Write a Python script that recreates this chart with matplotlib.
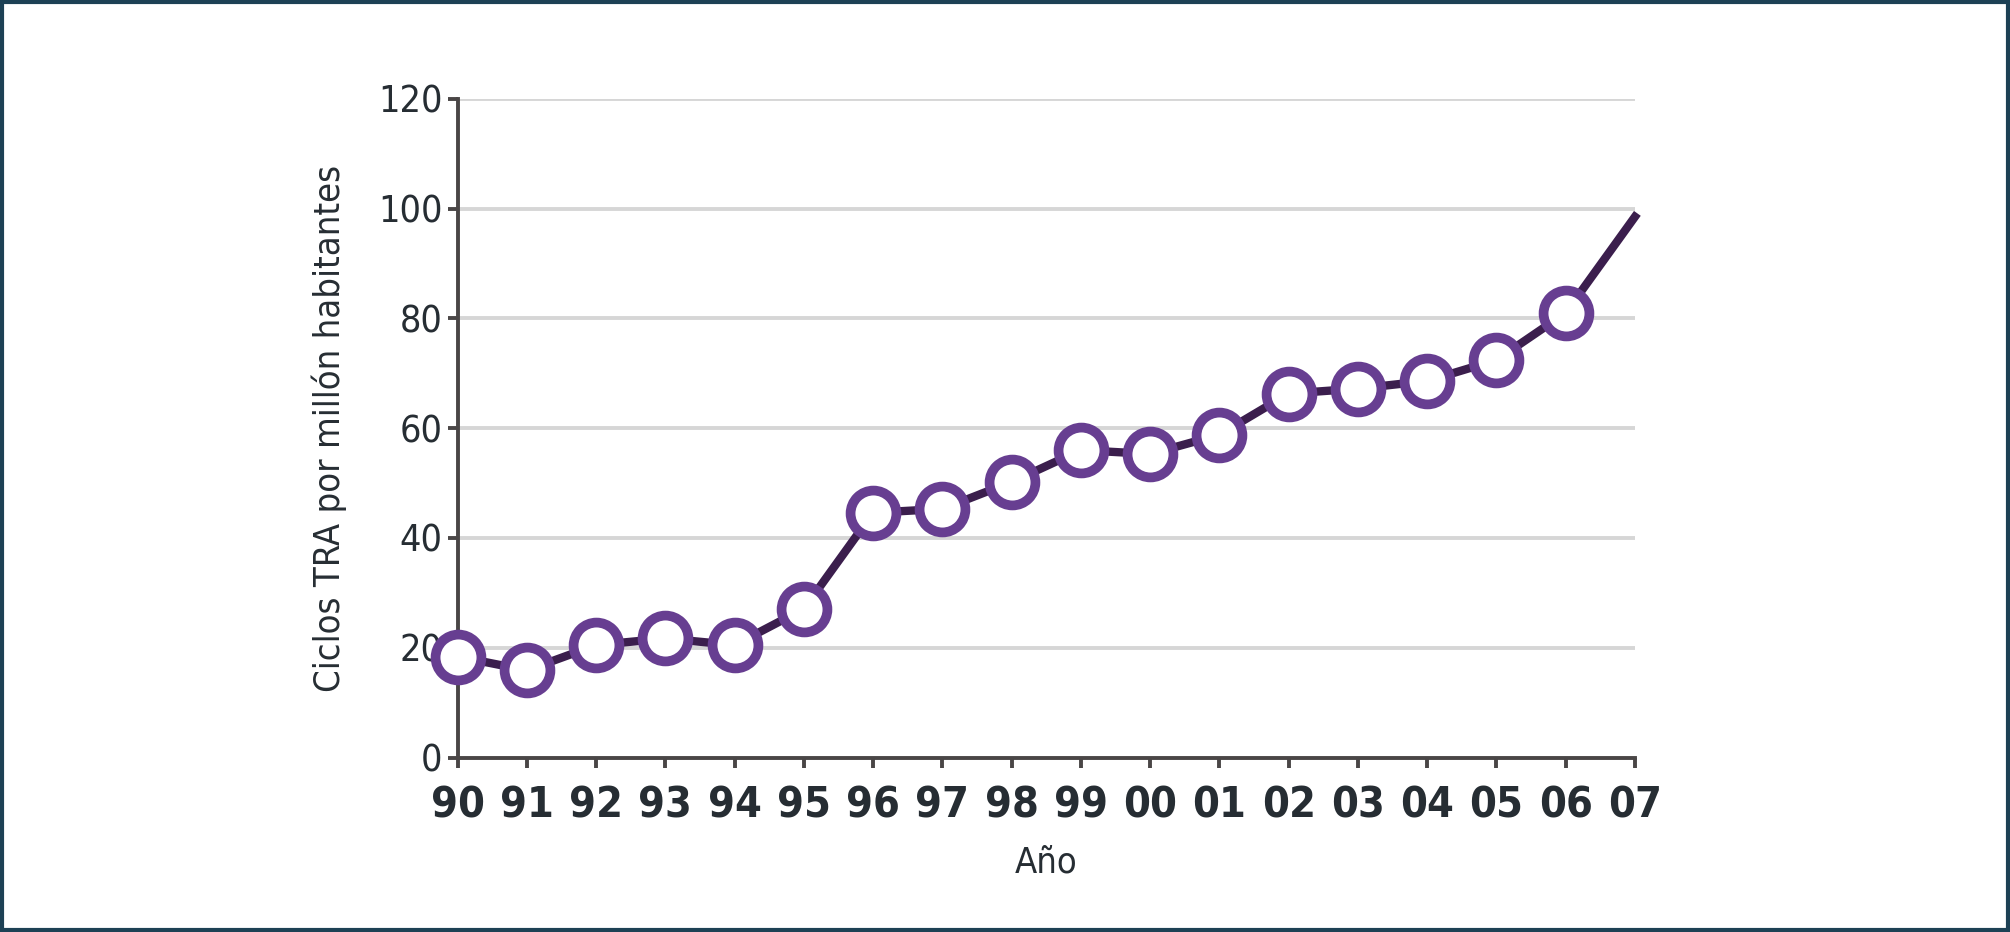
import matplotlib.pyplot as plt
from matplotlib.patches import Rectangle

# datos
years = ["90", "91", "92", "93", "94", "95", "96", "97", "98", "99",
         "00", "01", "02", "03", "04", "05", "06", "07"]
ciclos = [18.4, 15.9, 20.5, 21.7, 20.5, 27.1, 44.6, 45.3, 50.2, 56.0,
          55.3, 58.8, 66.3, 67.2, 68.6, 72.4, 81.0, 98.5]
yticks = [0, 20, 40, 60, 80, 100, 120]

plt.rcParams['font.family'] = ['DejaVu Sans']
plt.rcParams['font.stretch'] = 'condensed'

fig = plt.figure(figsize=(20.1, 9.32), dpi=100)
ax = fig.add_axes([0.2277, 0.1871, 0.5857, 0.7070])

x = list(range(len(years)))
ax.plot(x, ciclos, color="#3b1e4d", lw=6, zorder=3,
        marker="o", markersize=33, markerfacecolor="white",
        markeredgecolor="#673e91", markeredgewidth=7,
        markevery=list(range(len(years) - 1)), clip_on=False)

ax.set_xlim(0, len(years) - 1)
ax.set_ylim(0, 120)
ax.set_xticks(x)
ax.set_xticklabels(years, fontsize=31, fontweight="bold", color="#262d33",
                   fontstretch="condensed")
ax.set_yticks(yticks)
ax.set_yticklabels([str(v) for v in yticks], fontsize=27, color="#262d33",
                   fontstretch="condensed")

for v in yticks[1:]:
    ax.axhline(v, color="#d6d6d6", lw=2.8, zorder=1)

for s in ["top", "right"]:
    ax.spines[s].set_visible(False)
for s in ["left", "bottom"]:
    ax.spines[s].set_color("#4a4646")
    ax.spines[s].set_linewidth(2.8)
    ax.spines[s].set_zorder(2)
ax.tick_params(axis="both", color="#4a4646", width=2.8, length=7)
ax.tick_params(axis="x", pad=12)
ax.tick_params(axis="y", pad=4)

ax.set_ylabel("Ciclos TRA por millón habitantes", fontsize=26, color="#262d33",
              labelpad=22, fontstretch="condensed")
ax.set_xlabel("Año", fontsize=26, color="#262d33", labelpad=14,
              fontstretch="condensed")

# marco exterior
fig.patches.append(Rectangle((0.001, 0.002), 0.998, 0.996, transform=fig.transFigure,
                             fill=False, edgecolor="#1d4155", lw=3))

fig.savefig("out.png", dpi=100)
